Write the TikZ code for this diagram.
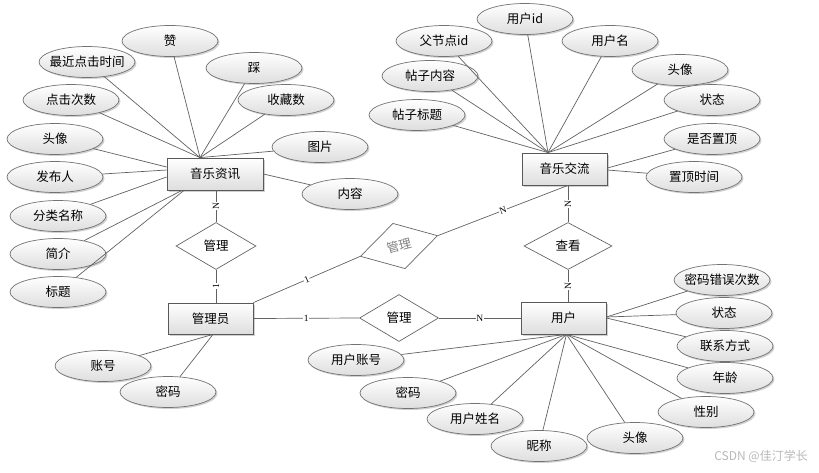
\documentclass[tikz,border=0pt]{standalone}
\usepackage{fontspec}
\setmainfont{Noto Sans CJK SC}
\newfontfamily\cardfont{Liberation Serif}
\usetikzlibrary{shapes.geometric,shadows,calc}
\newcommand\ctx[1]{\makebox[0pt]{#1}}
\begin{document}
\begin{tikzpicture}[x=1pt,y=-1pt,
  shd/.style={drop shadow={shadow xshift=1.5pt,shadow yshift=-1.5pt,fill=black!40,opacity=0.45}},
  attr/.style={ellipse,draw=black!55,line width=0.7pt,minimum width=96pt,minimum height=31pt,inner sep=0pt,
    top color=white,bottom color=black!13,shd,font=\fontsize{12.5}{14}\selectfont},
  ent/.style={rectangle,draw=black!65,line width=0.8pt,minimum width=85pt,minimum height=31pt,inner sep=0pt,
    top color=white,bottom color=black!13,shd,font=\fontsize{12.5}{14}\selectfont},
  rel/.style={diamond,draw=black!60,line width=0.7pt,fill=white,minimum width=80pt,minimum height=47pt,inner sep=0pt,
    font=\fontsize{12.5}{14}\selectfont},
  ln/.style={draw=black!62,line width=0.7pt},
  card/.style={fill=white,inner sep=0.6pt,font=\cardfont\fontsize{9.5}{10}\selectfont}
]
\useasboundingbox (0,0) rectangle (819,472);

% ---------- entities ----------
\node[ent,minimum width=96pt,minimum height=32pt] (zx) at (215,174) {音乐资讯};
\node[ent,minimum height=32pt] (jl) at (564.5,169) {音乐交流};
\node[ent,minimum height=32pt] (yh) at (563.5,318) {用户};
\node[ent] (gl) at (210.5,318.5) {管理员};

% ---------- relationships ----------
\node[rel] (d1) at (216,246) {管理};
\node[rel,rotate=15,text=black!50] (d2) at (399,246) {管理};
\node[rel,minimum width=88pt] (d3) at (568,246) {查看};
\node[rel,minimum width=79pt] (d4) at (399,318) {管理};

% ---------- attributes of 音乐资讯 ----------
\node[attr] (z1) at (170,41) {\ctx{赞}};
\node[attr] (z2) at (87,62) {\ctx{最近点击时间}};
\node[attr] (z3) at (254,68) {\ctx{踩}};
\node[attr] (z4) at (286,100) {\ctx{收藏数}};
\node[attr] (z5) at (71,100) {\ctx{点击次数}};
\node[attr] (z6) at (55,139) {\ctx{头像}};
\node[attr] (z7) at (320,147) {\ctx{图片}};
\node[attr] (z8) at (55,177) {\ctx{发布人}};
\node[attr] (z9) at (58,216) {\ctx{分类名称}};
\node[attr] (z10) at (350,194) {\ctx{内容}};
\node[attr] (z11) at (58,254) {\ctx{简介}};
\node[attr] (z12) at (58,292) {\ctx{标题}};

% ---------- attributes of 音乐交流 ----------
\node[attr] (j1) at (525,19) {\ctx{用户id}};
\node[attr] (j2) at (444,41) {\ctx{父节点id}};
\node[attr] (j3) at (610,41) {\ctx{用户名}};
\node[attr] (j4) at (430,76) {\ctx{帖子内容}};
\node[attr] (j5) at (680,70) {\ctx{头像}};
\node[attr] (j6) at (417,115) {\ctx{帖子标题}};
\node[attr] (j7) at (712,100) {\ctx{状态}};
\node[attr] (j8) at (712,139) {\ctx{是否置顶}};
\node[attr] (j9) at (694,177) {\ctx{置顶时间}};

% ---------- attributes of 用户 ----------
\node[attr] (y1) at (722,280) {\ctx{密码错误次数}};
\node[attr] (y2) at (724,313) {\ctx{状态}};
\node[attr] (y3) at (725,346) {\ctx{联系方式}};
\node[attr] (y4) at (725,378) {\ctx{年龄}};
\node[attr] (y5) at (706,412) {\ctx{性别}};
\node[attr] (y6) at (635,438) {\ctx{头像}};
\node[attr] (y7) at (539,446) {\ctx{昵称}};
\node[attr] (y8) at (475,419) {\ctx{用户姓名}};
\node[attr] (y9) at (408,393) {\ctx{密码}};
\node[attr] (y10) at (356,360) {\ctx{用户账号}};

% ---------- attributes of 管理员 ----------
\node[attr] (a1) at (103,366) {\ctx{账号}};
\node[attr] (a2) at (168,392) {\ctx{密码}};

% ---------- hubs ----------
\coordinate (zh) at ($(zx.north)+(-15,0)$);
\coordinate (jh) at ($(jl.north)+(-16.5,0)$);
\coordinate (yhh) at ($(yh.south)+(3,0)$);
\coordinate (gh) at ($(gl.south)+(2.5,0)$);

\begin{scope}[on background layer/.style={}]
% 音乐资讯
\foreach \n in {z1,z2,z3,z4,z5,z7} \draw[ln] (zh) -- (\n);
\draw[ln] ($(zx.west)+(0,-7)$) -- (z6);
\draw[ln] ($(zx.west)+(0,-4)$) -- (z8);
\draw[ln] ($(zx.west)+(0,3)$) -- (z9);
\draw[ln] ($(zx.south)+(-33,0)$) -- (z11);
\draw[ln] ($(zx.south)+(-31,0)$) -- (z12);
\draw[ln] (zx.east) -- (z10);
% 音乐交流
\foreach \n in {j1,j2,j3,j4,j5,j6,j7} \draw[ln] (jh) -- (\n);
\draw[ln] ($(jl.east)+(0,-1)$) -- (j8);
\draw[ln] ($(jl.east)+(0,1)$) -- (j9);
% 用户
\foreach \n in {y4,y5,y6,y7,y8,y9,y10} \draw[ln] (yhh) -- (\n);
\draw[ln] ($(yh.east)+(0,-1)$) -- (y1);
\draw[ln] ($(yh.east)+(0,-1)$) -- (y2);
\draw[ln] (yh.east) -- (y3);
% 管理员
\draw[ln] (gh) -- (a1);
\draw[ln] (gh) -- (a2);
\end{scope}

% ---------- relationship connectors ----------
\draw[ln] (zx.south -| d1.north) -- node[card,rotate=90] {N} (d1.north);
\draw[ln] (d1.south) -- node[card,rotate=90] {1} (gl.north -| d1.south);
\draw[ln] (gl.north east) -- node[card,sloped] {1} (d2.west);
\draw[ln] (d2.east) -- node[card,sloped] {N} (jl.south -| d3.north);
\draw[ln] (jl.south -| d3.north) -- node[card,rotate=90] {N} (d3.north);
\draw[ln] (d3.south) -- node[card,rotate=90] {N} (yh.north -| d3.south);
\draw[ln] (gl.east) -- node[card] {1} (d4.west);
\draw[ln] (d4.east) -- node[card] {N} (yh.west);

% ---------- watermark ----------
\node[anchor=east,text=black!28,font=\fontsize{12}{14}\selectfont,inner sep=0pt] (wm) at (808,456) {CSDN @佳汀学长};
\end{tikzpicture}
\end{document}
